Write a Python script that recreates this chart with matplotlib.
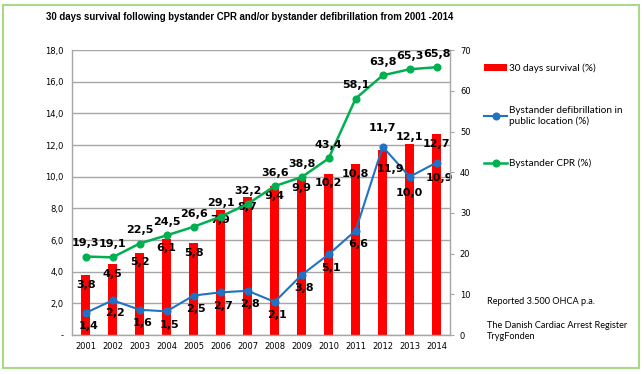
import matplotlib.pyplot as plt
from matplotlib.patches import Rectangle

years = ["2001", "2002", "2003", "2004", "2005", "2006", "2007",
         "2008", "2009", "2010", "2011", "2012", "2013", "2014"]
survival = [3.8, 4.5, 5.2, 6.1, 5.8, 7.9, 8.7, 9.4, 9.9, 10.2, 10.8, 11.7, 12.1, 12.7]
defib = [1.4, 2.2, 1.6, 1.5, 2.5, 2.7, 2.8, 2.1, 3.8, 5.1, 6.6, 11.9, 10.0, 10.9]
cpr = [19.3, 19.1, 22.5, 24.5, 26.6, 29.1, 32.2, 36.6, 38.8, 43.4, 58.1, 63.8, 65.3, 65.8]

RED = "#FF0000"
BLUE = "#1F72C4"
GREEN = "#00B050"
GRID = "#A6A6A6"
SMALL = ["Lato", "DejaVu Sans"]


def fmt(v):
    return ("%.1f" % v).replace(".", ",")


fig = plt.figure(figsize=(6.44, 3.74), dpi=100)
ax = fig.add_axes([0.112, 0.104, 0.587, 0.762])
ax2 = ax.twinx()

x = list(range(len(years)))

# bars + defib line on left axis
bars = ax.bar(x, survival, width=0.31, color=RED, zorder=2)
defib_line, = ax.plot(x, defib, color=BLUE, lw=1.5, marker="o", ms=4.8, zorder=4)

# CPR on right axis
cpr_line, = ax2.plot(x, cpr, color=GREEN, lw=1.8, marker="o", ms=4.8, zorder=4)

ax.set_xlim(-0.5, len(years) - 0.5)
ax.set_ylim(0, 18)
ax2.set_ylim(0, 70)
ax.set_yticks([i * 2 for i in range(10)])
ax.set_yticklabels(["-"] + [fmt(i * 2) for i in range(1, 10)])
ax2.set_yticks(range(0, 71, 10))
ax.set_xticks(x)
ax.set_xticklabels(years)

ax.yaxis.grid(True, color=GRID, lw=1.0, zorder=0)
ax.set_axisbelow(True)
ax.tick_params(axis="both", length=0, labelsize=6, colors="black", pad=6)
ax.tick_params(axis="x", pad=5)
ax2.tick_params(axis="y", length=3, width=0.8, color=GRID, labelsize=6, pad=4)

for a in (ax, ax2):
    a.spines["top"].set_visible(False)
    for s in ("left", "right", "bottom"):
        a.spines[s].set_color(GRID)
        a.spines[s].set_linewidth(1.0)
ax.spines["right"].set_visible(False)
ax2.spines["left"].set_visible(False)
ax2.spines["bottom"].set_visible(False)

# data labels
lab = dict(fontsize=8, fontweight="bold", ha="center", va="center",
           textcoords="offset points", zorder=6)
for i, v in enumerate(survival):
    off = (0, -7)
    if years[i] == "2012":
        off = (0, 16)
    elif years[i] == "2013":
        off = (0, 5)
    ax.annotate(fmt(v), (i, v), xytext=off, **lab)
for i, v in enumerate(defib):
    off = (2, -9.5)
    if years[i] == "2012":
        off = (6, -16)
    elif years[i] == "2013":
        off = (0, -11.5)
    elif years[i] == "2014":
        off = (2, -11)
    ax.annotate(fmt(v), (i, v), xytext=off, **lab)
for i, v in enumerate(cpr):
    ax2.annotate(fmt(v), (i, v), xytext=(0, 9.5), **lab)

fig.text(250 / 644, 1 - 17 / 374,
         "30 days survival following bystander CPR and/or bystander defibrillation from 2001 -2014",
         ha="center", va="center", fontsize=6.95, fontweight="bold",
         family=["Liberation Sans", "DejaVu Sans"])

fig.legend([bars, defib_line, cpr_line],
           ["30 days survival (%)", "Bystander defibrillation in\npublic location (%)",
            "Bystander CPR (%)"],
           loc="upper left", bbox_to_anchor=(484 / 644, 1 - 63 / 374),
           frameon=False, labelspacing=3.3, handlelength=2.3,
           handletextpad=0.2, borderaxespad=0, borderpad=0,
           prop={"family": SMALL, "size": 7.2})

fig.text(487 / 644, 1 - 302 / 374, "Reported 3.500 OHCA p.a.", fontsize=6.6,
         va="center", family=SMALL)
fig.text(487 / 644, 1 - 331 / 374, "The Danish Cardiac Arrest Register\nTrygFonden",
         fontsize=6.6, va="center", linespacing=1.15, family=SMALL)

fig.patches.append(Rectangle((3 / 644, 1 - 368 / 374), 636 / 644, 363 / 374,
                             transform=fig.transFigure, fill=False,
                             edgecolor="#A9D88A", lw=1.5))

fig.savefig("out.png", dpi=100)
